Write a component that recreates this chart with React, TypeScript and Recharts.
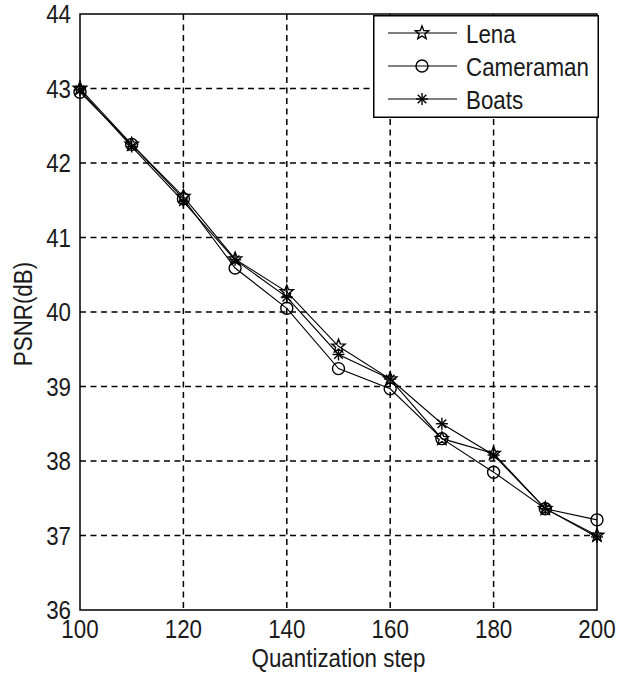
import React from "react";
import {
  LineChart,
  Line,
  XAxis,
  YAxis,
  CartesianGrid,
  Legend,
  ReferenceArea,
} from "recharts";

const steps = [100, 110, 120, 130, 140, 150, 160, 170, 180, 190, 200];
const lena = [43.0, 42.25, 41.55, 40.71, 40.27, 39.54, 39.1, 38.3, 38.1, 37.36, 37.0];
const cameraman = [42.95, 42.25, 41.52, 40.59, 40.05, 39.24, 38.97, 38.3, 37.85, 37.36, 37.21];
const boats = [42.98, 42.22, 41.48, 40.7, 40.2, 39.43, 39.1, 38.5, 38.08, 37.36, 36.98];

const xTicks = [100, 120, 140, 160, 180, 200];
const yTicks = [36, 37, 38, 39, 40, 41, 42, 43, 44];

const data = steps.map((s, i) => ({
  step: s,
  Lena: lena[i],
  Cameraman: cameraman[i],
  Boats: boats[i],
}));

const FONT = "'Liberation Sans', Arial, sans-serif";
const FS = 26;
const SQUEEZE = 0.86;

// the reference uses a condensed sans, so squeeze the regular one horizontally
function NarrowText({
  x,
  y,
  anchor = "start",
  rotate = 0,
  children,
}: {
  x: number;
  y: number;
  anchor?: "start" | "middle" | "end";
  rotate?: number;
  children: React.ReactNode;
}) {
  const t = `translate(${x},${y}) rotate(${rotate}) scale(${SQUEEZE},1)`;
  return (
    <text
      x={0}
      y={0}
      transform={t}
      textAnchor={anchor}
      fontFamily={FONT}
      fontSize={FS}
      fill="#1a1a1a"
    >
      {children}
    </text>
  );
}

type MarkerKind = "star" | "circle" | "asterisk";

function Marker({ kind, cx, cy }: { kind: MarkerKind; cx: number; cy: number }) {
  if (kind === "circle") {
    return <circle cx={cx} cy={cy} r={6} fill="none" stroke="#000" strokeWidth={1.4} />;
  }
  if (kind === "asterisk") {
    const r = 6;
    const d = r * 0.72;
    return (
      <g stroke="#000" strokeWidth={1.4}>
        <line x1={cx - r} y1={cy} x2={cx + r} y2={cy} />
        <line x1={cx} y1={cy - r} x2={cx} y2={cy + r} />
        <line x1={cx - d} y1={cy - d} x2={cx + d} y2={cy + d} />
        <line x1={cx - d} y1={cy + d} x2={cx + d} y2={cy - d} />
      </g>
    );
  }
  const pts: string[] = [];
  for (let k = 0; k < 10; k++) {
    const r = k % 2 === 0 ? 7 : 3;
    const a = -Math.PI / 2 + (k * Math.PI) / 5;
    pts.push(`${cx + r * Math.cos(a)},${cy + r * Math.sin(a)}`);
  }
  return <polygon points={pts.join(" ")} fill="none" stroke="#000" strokeWidth={1.4} />;
}

const series: { key: string; marker: MarkerKind }[] = [
  { key: "Lena", marker: "star" },
  { key: "Cameraman", marker: "circle" },
  { key: "Boats", marker: "asterisk" },
];

const renderDot = (kind: MarkerKind) => (props: any) => {
  const { cx, cy, index } = props;
  if (cx == null || cy == null) return <g key={index} />;
  return <Marker key={index} kind={kind} cx={cx} cy={cy} />;
};

function LegendBox() {
  return (
    <svg width={226} height={103} style={{ display: "block" }}>
      <rect x={0.75} y={0.75} width={224.5} height={101.5} fill="#fff" stroke="#000" strokeWidth={1.5} />
      {series.map((s, i) => {
        const y = 18 + i * 33;
        return (
          <g key={s.key}>
            <line x1={15} y1={y} x2={84} y2={y} stroke="#000" strokeWidth={1.2} />
            <Marker kind={s.marker} cx={49} cy={y} />
            <NarrowText x={93} y={y + 10}>
              {s.key}
            </NarrowText>
          </g>
        );
      })}
    </svg>
  );
}

const XTick = (p: any) => (
  <NarrowText x={p.x} y={p.y + 18} anchor="middle">
    {p.payload.value}
  </NarrowText>
);

const YTick = (p: any) => (
  <NarrowText x={p.x} y={p.y + 9} anchor="end">
    {p.payload.value}
  </NarrowText>
);

export default function App() {
  return (
    <div style={{ position: "absolute", left: 0, top: 0, background: "#fff" }}>
      <LineChart
        width={620}
        height={675}
        data={data}
        margin={{ top: 14, right: 23, bottom: 0, left: 0 }}
      >
        <CartesianGrid
          stroke="#000"
          strokeWidth={1.5}
          strokeDasharray="6 4.5"
          horizontalValues={[37, 38, 39, 40, 41, 42, 43]}
          verticalValues={[120, 140, 160, 180]}
        />
        <ReferenceArea
          x1={100}
          x2={200}
          y1={36}
          y2={44}
          fill="none"
          stroke="#000"
          strokeWidth={1.5}
          strokeOpacity={1}
        />
        <XAxis
          dataKey="step"
          type="number"
          domain={[100, 200]}
          ticks={xTicks}
          tickLine={false}
          axisLine={false}
          tickSize={0}
          tickMargin={10}
          height={65}
          tick={XTick}
          label={{
            content: (p: any) => {
              const vb = p.viewBox || {};
              return (
                <NarrowText x={vb.x + vb.width / 2} y={vb.y + 57} anchor="middle">
                  Quantization step
                </NarrowText>
              );
            },
          }}
        />
        <YAxis
          type="number"
          domain={[36, 44]}
          ticks={yTicks}
          width={80}
          tickLine={false}
          axisLine={false}
          tickSize={0}
          tickMargin={9}
          tick={YTick}
          label={{
            content: () => (
              <NarrowText x={32} y={314} anchor="middle" rotate={-90}>
                PSNR(dB)
              </NarrowText>
            ),
          }}
        />
        {series.map((s) => (
          <Line
            key={s.key}
            dataKey={s.key}
            stroke="#000"
            strokeWidth={1.1}
            dot={renderDot(s.marker)}
            activeDot={false}
            isAnimationActive={false}
          />
        ))}
        <Legend
          layout="vertical"
          align="center"
          verticalAlign="middle"
          wrapperStyle={{ position: "absolute", left: 373, top: 15, width: 226, height: 103 }}
          content={() => <LegendBox />}
        />
      </LineChart>
    </div>
  );
}
